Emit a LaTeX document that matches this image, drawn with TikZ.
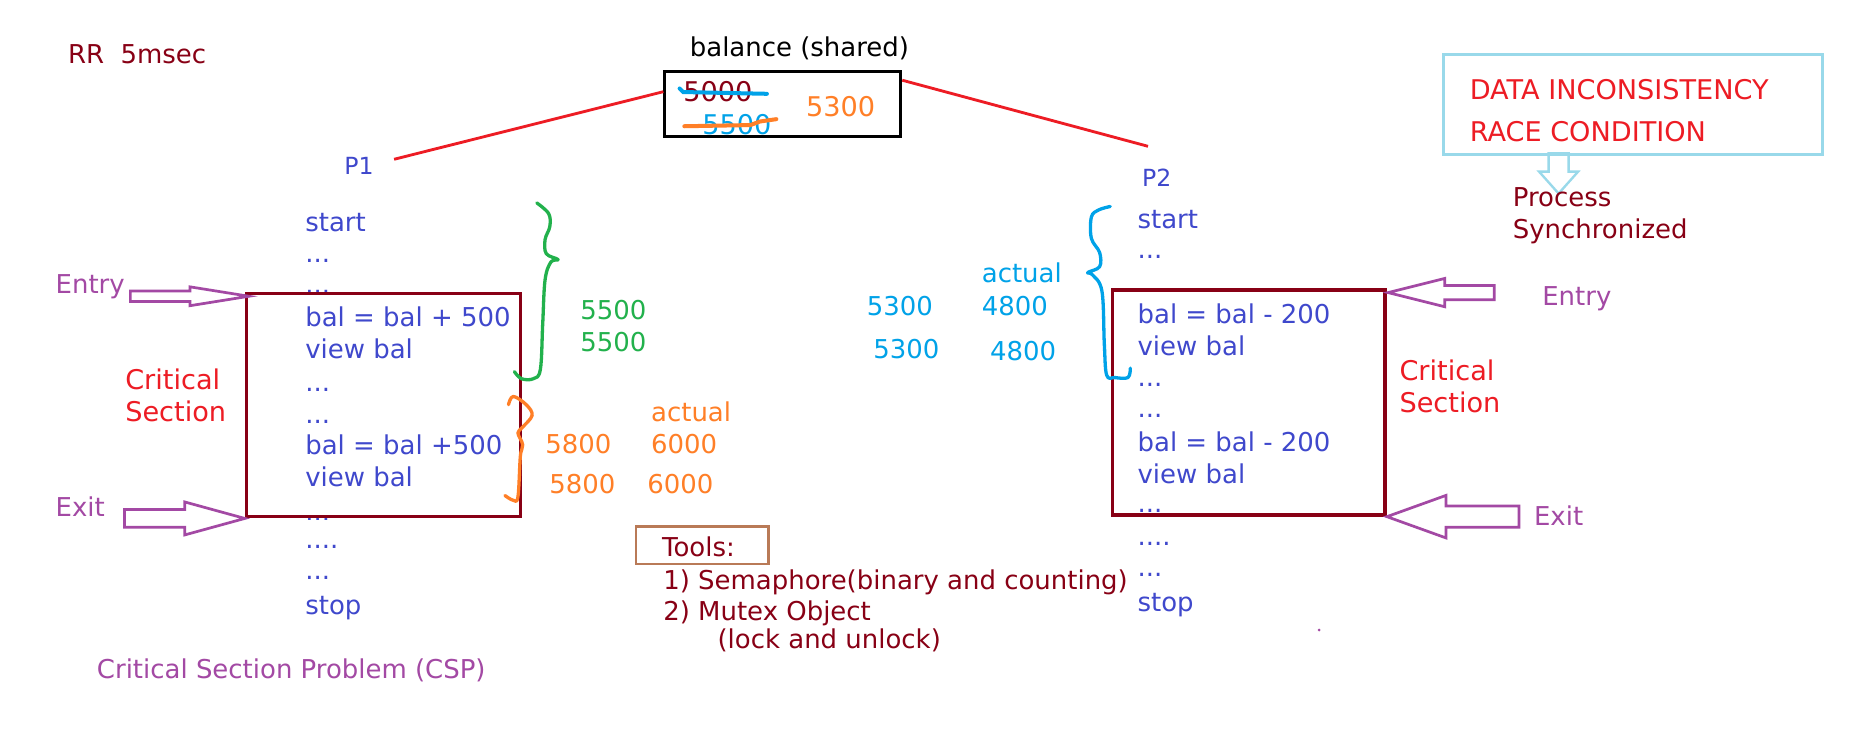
\documentclass[tikz,border=0pt]{standalone}
\usepackage{fontspec}
\setmainfont{DejaVu Sans}

\definecolor{codeblue}{HTML}{3F48CC}
\definecolor{burgundy}{HTML}{880015}
\definecolor{paintred}{HTML}{ED1C24}
\definecolor{gatepurple}{HTML}{A349A4}
\definecolor{turq}{HTML}{00A2E8}
\definecolor{paintorange}{HTML}{FF7F27}
\definecolor{paintgreen}{HTML}{22B14C}
\definecolor{lightturq}{HTML}{99D9EA}
\definecolor{paintbrown}{HTML}{B97A57}

\tikzset{
  pics/gatearrow/.style n args={4}{code={%
    \draw[line join=miter]
      (0,0) -- (-#1,-#4) -- (-#1,-#3) -- (-#2,-#3) -- (-#2,#3)
      -- (-#1,#3) -- (-#1,#4) -- cycle;
  }}
}

\begin{document}
\begin{tikzpicture}[
    x=1pt, y=-1pt,
    lbl/.style={anchor=base west, inner sep=0pt, font=\fontsize{22}{26}\selectfont},
    lblbig/.style={lbl, font=\fontsize{23}{27}\selectfont},
    plbl/.style={lbl, text=codeblue, font=\fontsize{20}{24}\selectfont},
    cline/.style={lbl, text=codeblue},
    csbox/.style={draw=burgundy, line width=3pt, inner sep=0pt},
    gate/.style={gatepurple, line width=2.3pt},
    link/.style={paintred, line width=2.4pt},
    brace/.style={line width=2.8pt, line cap=round, line join=round}
  ]
  % Background
  \fill[white] (0,0) rectangle (1568,630);
  \useasboundingbox (0,0) rectangle (1568,630);

  % Scheduling note
  \node[lbl, text=burgundy] (rr) at (57.5,53.7) {RR\ \ 5msec};

  % Shared variable
  \node[lbl] (sharedlbl) at (584.5,47.5) {balance (shared)};
  \node[draw, line width=2.5pt, minimum width=200pt, minimum height=55.6pt,
        inner sep=0pt] (shared) at (663.5,88) {};
  \node[lblbig, text=burgundy] (oldbal) at (579,86.2) {5000};
  \node[lblbig, text=turq] (midbal) at (595,114.4) {5500};
  \node[lblbig, text=paintorange] (newbal) at (683,98.9) {5300};
  \draw[turq, line width=3.4pt, line cap=round]
    (576,75) -- (579,78) -- (650,79.5);
  \draw[paintorange, line width=3.4pt, line cap=round]
    (580,107) -- (636,106) -- (644,103) -- (658,101);

  % Processes
  \node[plbl] (p1) at (291.7,148) {P1};
  \node[plbl] (p2) at (967.8,158) {P2};
  \coordinate (p1tip) at (334,135);
  \coordinate (p2tip) at (973,124);
  \draw[link] ([yshift=10.3pt]shared.west) -- (p1tip);
  \draw[link] ([yshift=20pt]shared.east) -- (p2tip);

  % P1 code
  \node[cline] (p1start) at (258.6,196.3) {start};
  \node[cline] (p1dotsa) at (258.6,222.6) {...};
  \node[cline] (p1dotsb) at (258.6,249) {...};
  \node[cline] (p1add) at (258.6,276.8) {bal = bal + 500};
  \node[cline] (p1view) at (258.6,303.5) {view bal};
  \node[cline] (p1dotsc) at (258.6,332) {...};
  \node[cline] (p1dotsd) at (258.6,358.6) {...};
  \node[cline] (p1addb) at (258.6,385.6) {bal = bal +500};
  \node[cline] (p1viewb) at (258.6,412.4) {view bal};
  \node[cline] (p1dotse) at (258.6,441) {...};
  \node[cline] (p1dotsf) at (258.6,465) {....};
  \node[cline] (p1dotsg) at (258.6,491.5) {...};
  \node[cline] (p1stop) at (258.6,521) {stop};

  % P2 code
  \node[cline] (p2start) at (964,193.5) {start};
  \node[cline] (p2dotsa) at (964,219) {...};
  \node[cline] (p2sub) at (964,274) {bal = bal - 200};
  \node[cline] (p2view) at (964,301) {view bal};
  \node[cline] (p2dotsc) at (964,327.7) {...};
  \node[cline] (p2dotsd) at (964,354) {...};
  \node[cline] (p2subb) at (964,382.8) {bal = bal - 200};
  \node[cline] (p2viewb) at (964,409.6) {view bal};
  \node[cline] (p2dotse) at (964,434.5) {...};
  \node[cline] (p2dotsf) at (964,462) {....};
  \node[cline] (p2dotsg) at (964,489) {...};
  \node[cline] (p2stop) at (964,518) {stop};

  % Critical sections
  \node[csbox, minimum width=232pt, minimum height=189.3pt] (cs1) at (325,343.25) {};
  \node[csbox, minimum width=231pt, minimum height=190.6pt] (cs2) at (1058.5,341.1) {};
  \node[lblbig, text=paintred] (crita) at (106,330) {Critical};
  \node[lblbig, text=paintred] (secta) at (106,357) {Section};
  \node[lblbig, text=paintred] (critb) at (1186,322.6) {Critical};
  \node[lblbig, text=paintred] (sectb) at (1186,349.7) {Section};

  % Entry and exit
  \node[lbl, text=gatepurple] (entrya) at (47,248.6) {Entry};
  \node[lbl, text=gatepurple] (exita) at (47,438) {Exit};
  \node[lbl, text=gatepurple] (entryb) at (1307,258.5) {Entry};
  \node[lbl, text=gatepurple] (exitb) at (1300,445.8) {Exit};
  \pic[gate] at ([shift={(3.5,4)}]cs1.north west) {gatearrow={50}{100.5}{4.5}{8}};
  \pic[gate] at (cs1.south west) {gatearrow={51}{102}{7.5}{14}};
  \pic[gate, xscale=-1] at ([shift={(1,3.7)}]cs2.north east) {gatearrow={48}{90}{6}{12}};
  \pic[gate, xscale=-1] at (cs2.south east) {gatearrow={50}{112}{9}{18}};

  % P1 values
  \draw[brace, paintgreen] plot[smooth, tension=0.6] coordinates {
    (455,172) (465,181) (466,192) (462,203) (463,215) (473,220) (467,222)
    (462,237) (460,274) (458,313) (452,321) (442,321) (436,315)};
  \node[lbl, text=paintgreen] (ga) at (491.7,271) {5500};
  \node[lbl, text=paintgreen] (gb) at (491.7,298) {5500};
  \draw[brace, paintorange] plot[smooth, tension=0.6] coordinates {
    (431,343) (435,336) (446,343) (451,352) (443,362) (439,367) (443,377)
    (441,387) (439,421) (435,424) (428,420)};
  \node[lbl, text=paintorange] (oact) at (551.7,357) {actual};
  \node[lbl, text=paintorange] (oa) at (462,384) {5800};
  \node[lbl, text=paintorange] (ob) at (551.7,384) {6000};
  \node[lbl, text=paintorange] (oc) at (465.5,418) {5800};
  \node[lbl, text=paintorange] (od) at (548.5,418) {6000};

  % P2 values
  \draw[brace, turq] plot[smooth, tension=0.6] coordinates {
    (941,175) (931,178) (925,184) (925,202) (932,214) (932,226) (922,231)
    (926,233) (934,247) (936,292) (938,318) (945,320) (956,320) (958,312)};
  \node[lbl, text=turq] (cact) at (832,239.5) {actual};
  \node[lbl, text=turq] (ca) at (734.5,267) {5300};
  \node[lbl, text=turq] (cb) at (832,267) {4800};
  \node[lbl, text=turq] (cc) at (740,303.7) {5300};
  \node[lbl, text=turq] (cd) at (839,305.6) {4800};

  % Problem and remedy
  \node[draw=lightturq, line width=2.5pt, minimum width=321pt, minimum height=84.7pt,
        inner sep=0pt] (issue) at (1383.9,88.2) {};
  \node[lblbig, text=paintred] (incons) at (1245.5,84.7) {DATA INCONSISTENCY};
  \node[lblbig, text=paintred] (race) at (1245.5,120) {RACE CONDITION};
  \pic[lightturq, line width=2pt, rotate=-90] at (1321,164) {gatearrow={18.5}{34}{8.5}{16.5}};
  \node[lbl, text=burgundy] (proc) at (1282,175) {Process};
  \node[lbl, text=burgundy] (sync) at (1282,202) {Synchronized};

  % Tools
  \node[draw=paintbrown, line width=2.4pt, minimum width=112pt, minimum height=32pt,
        inner sep=0pt] (toolbox) at (595,462) {};
  \node[lbl, text=burgundy] (tools) at (561,471.8) {Tools:};
  \node[lbl, text=burgundy] (sema) at (562,500) {1) Semaphore(binary and counting)};
  \node[lbl, text=burgundy] (mutex) at (562,526) {2) Mutex Object};
  \node[lbl, text=burgundy] (lock) at (608,549.4) {(lock and unlock)};

  % Caption
  \node[lbl, text=gatepurple] (csp) at (82,574.8) {Critical Section Problem (CSP)};
  \fill[gatepurple] (1118,534) circle (1.3pt);
\end{tikzpicture}
\end{document}
